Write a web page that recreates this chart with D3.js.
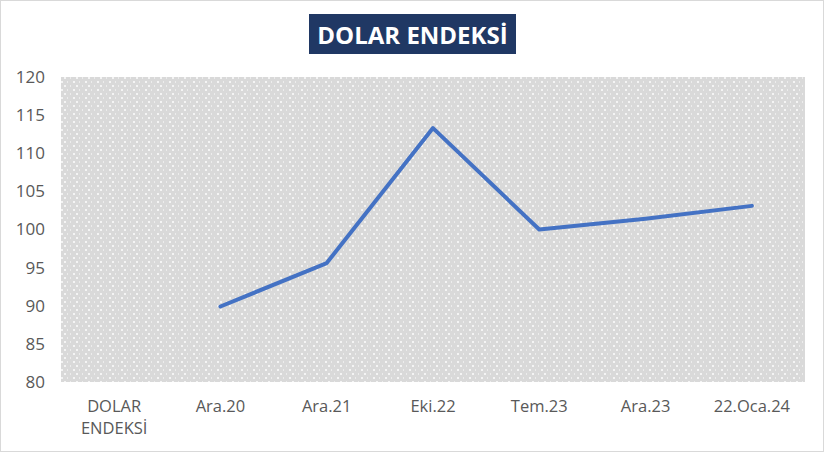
<!DOCTYPE html>
<html><head><meta charset="utf-8">
<script src="https://cdn.jsdelivr.net/npm/d3@7"></script>
<style>body{margin:0;background:#fff;} svg{display:block;}</style>
</head><body>
<svg id="c" width="825" height="454"></svg>
<script>
const title = "DOLAR ENDEKSİ";
const categories = ["DOLAR\nENDEKSİ", "Ara.20", "Ara.21", "Eki.22", "Tem.23", "Ara.23", "22.Oca.24"];
const values = [null, 89.9, 95.6, 113.3, 100.0, 101.4, 103.1];
const yTicks = [80, 85, 90, 95, 100, 105, 110, 115, 120];

const svg = d3.select("#c");
const m = {left: 61, right: 20, top: 77, bottom: 72};

svg.append("rect").attr("x", 0.5).attr("y", 0.5).attr("width", 823).attr("height", 451)
  .attr("fill", "#fff").attr("stroke", "#d9d9d9");

const defs = svg.append("defs");
const pat = defs.append("pattern").attr("id", "dots").attr("patternUnits", "userSpaceOnUse")
  .attr("width", 12).attr("height", 8);
pat.append("rect").attr("width", 12).attr("height", 8).attr("fill", "#d9d9d9");
pat.append("rect").attr("x", 1).attr("y", 1).attr("width", 2).attr("height", 2).attr("fill", "#f4f4f4");
pat.append("rect").attr("x", 7).attr("y", 1.5).attr("width", 1).attr("height", 1).attr("fill", "#fff");
pat.append("rect").attr("x", 4).attr("y", 5).attr("width", 2).attr("height", 2).attr("fill", "#f4f4f4");
pat.append("rect").attr("x", 10).attr("y", 5.5).attr("width", 1).attr("height", 1).attr("fill", "#fff");

const x = d3.scaleBand().domain(categories).range([m.left, 805]).paddingInner(0).paddingOuter(0);
const y = d3.scaleLinear().domain([80, 120]).range([382, 77]);

svg.append("rect").attr("x", m.left).attr("y", y(120)).attr("width", 805 - m.left)
  .attr("height", y(80) - y(120)).attr("fill", "url(#dots)");

// title
const tb = svg.append("g");
tb.append("rect").attr("x", 309).attr("y", 14).attr("width", 207).attr("height", 40).attr("fill", "#203864");
tb.append("text").attr("x", 412.5).attr("y", 43.5).attr("text-anchor", "middle")
  .attr("font-family", "'Open Sans', sans-serif").attr("font-weight", "bold").attr("font-size", 24)
  .attr("fill", "#fff").text(title);

// y axis
const ya = svg.append("g").attr("transform", `translate(${m.left},0)`)
  .call(d3.axisLeft(y).tickValues(yTicks).tickSize(0).tickPadding(16));
ya.select(".domain").remove();
ya.selectAll("text").attr("font-family", "'Open Sans', sans-serif").attr("font-size", 17).attr("fill", "#595959");

// x axis
const xa = svg.append("g").attr("transform", `translate(0,382)`)
  .call(d3.axisBottom(x).tickSize(0).tickPadding(16).tickFormat(""));
xa.select(".domain").remove();
xa.selectAll(".tick").each(function(d) {
  const t = d3.select(this).append("text").attr("y", 30).attr("text-anchor", "middle")
    .attr("font-family", "'Open Sans', sans-serif").attr("font-size", 16.5).attr("fill", "#595959");
  d.split("\n").forEach((s, i) => t.append("tspan").attr("x", 0).attr("dy", i === 0 ? 0 : 22).text(s));
});

// line
const line = d3.line().defined(d => d.v != null)
  .x(d => x(d.c) + x.bandwidth() / 2).y(d => y(d.v));
svg.append("path").datum(categories.map((c, i) => ({c, v: values[i]})))
  .attr("d", line).attr("fill", "none").attr("stroke", "#4472c4").attr("stroke-width", 4)
  .attr("stroke-linejoin", "round").attr("stroke-linecap", "round");
</script>
</body></html>
